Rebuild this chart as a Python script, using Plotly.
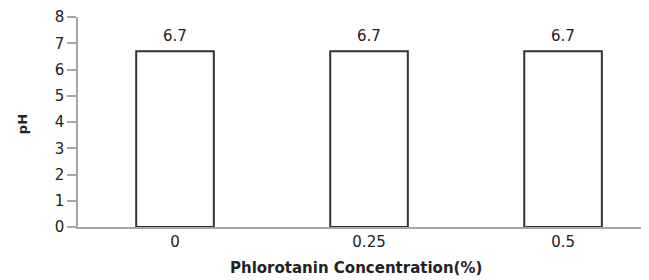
import plotly.graph_objects as go

categories = ["0", "0.25", "0.5"]
ph_values = [6.7, 6.7, 6.7]
y_ticks = [0, 1, 2, 3, 4, 5, 6, 7, 8]

FONT = "DejaVu Sans"
TXT = "#222222"
AX = "#a6a6a6"

fig = go.Figure()
fig.add_trace(go.Bar(
    x=list(range(len(categories))),
    y=ph_values,
    width=0.4,
    marker=dict(color="white", line=dict(color="#333333", width=2)),
    showlegend=False,
    hoverinfo="skip",
))

for i, v in enumerate(ph_values):
    fig.add_annotation(
        x=i, y=v, text=f"{v:.1f}", showarrow=False,
        yanchor="bottom", yshift=4,
        font=dict(family=FONT, size=15, color=TXT),
    )

# axis titles
fig.add_annotation(
    xref="paper", yref="paper", x=0.487, y=-0.195,
    xanchor="center", yanchor="middle", showarrow=False,
    text="<b>Phlorotanin Concentration(%)</b>",
    font=dict(family=FONT, size=15, color=TXT),
)
fig.add_annotation(
    xref="paper", yref="paper", x=-0.098, y=0.49,
    xanchor="center", yanchor="middle", showarrow=False, textangle=-90,
    text="<b>pH</b>",
    font=dict(family=FONT, size=13, color=TXT),
)

# the page body adds an 8px offset; the figure is sized to fill the 649x280 window
fig.update_layout(
    width=641, height=272,
    margin=dict(l=70, r=0, t=9, b=53),
    paper_bgcolor="white", plot_bgcolor="white",
    font=dict(family=FONT, color=TXT),
)
fig.update_xaxes(
    range=[-0.5, 2.443],
    tickvals=list(range(len(categories))),
    ticktext=categories,
    showline=True, linecolor=AX, linewidth=1.5,
    ticks="", showgrid=False, zeroline=False,
    tickfont=dict(family=FONT, size=15, color=TXT),
    automargin=False,
)
fig.update_yaxes(
    range=[0, 8],
    tickvals=y_ticks,
    showline=True, linecolor=AX, linewidth=1.5,
    ticks="outside", ticklen=9, tickcolor=AX, tickwidth=1.5,
    showgrid=False, zeroline=False,
    tickfont=dict(family=FONT, size=15, color=TXT),
    automargin=False,
)

fig.write_html("out.html")
